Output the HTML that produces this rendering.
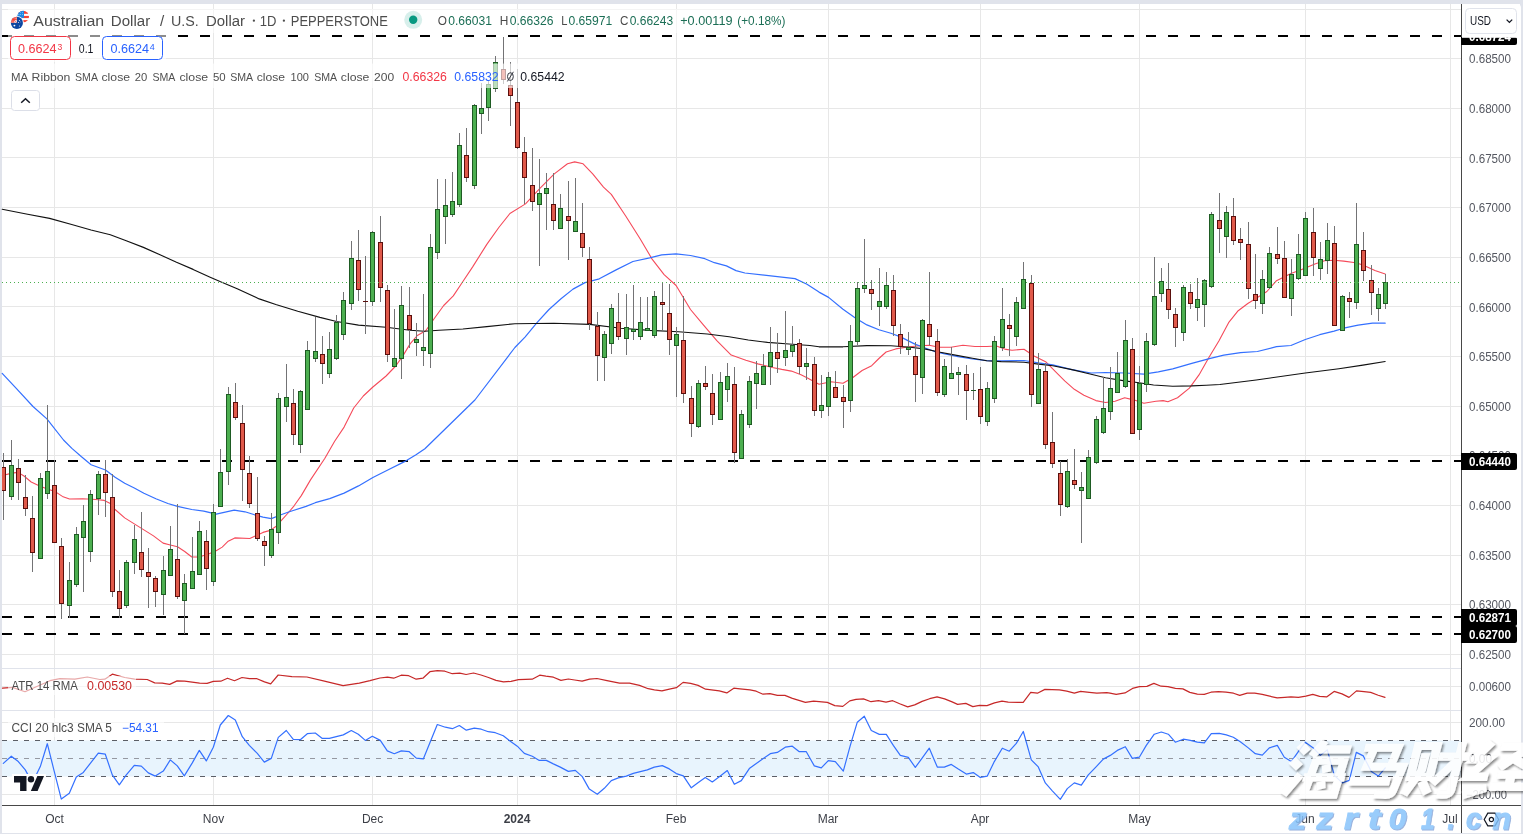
<!DOCTYPE html>
<html><head><meta charset="utf-8"><title>AUDUSD</title>
<style>
html,body{margin:0;padding:0}
body{width:1523px;height:834px;overflow:hidden;background:#e0e3eb;position:relative;font-family:"Liberation Sans",sans-serif}
#panel{position:absolute;left:2px;top:4px;width:1519px;height:829px;background:#fff;border-radius:0 4px 0 0}
svg{position:absolute;left:0;top:0;will-change:transform}
</style></head><body>
<div id="panel"></div>
<svg width="1523" height="834" viewBox="0 0 1523 834">
<g shape-rendering="crispEdges">
<rect x="2" y="9" width="1459" height="1" fill="#e7e7e7"/>
<rect x="2" y="58" width="1459" height="1" fill="#e7e7e7"/>
<rect x="2" y="108" width="1459" height="1" fill="#e7e7e7"/>
<rect x="2" y="157" width="1459" height="1" fill="#e7e7e7"/>
<rect x="2" y="207" width="1459" height="1" fill="#e7e7e7"/>
<rect x="2" y="257" width="1459" height="1" fill="#e7e7e7"/>
<rect x="2" y="306" width="1459" height="1" fill="#e7e7e7"/>
<rect x="2" y="356" width="1459" height="1" fill="#e7e7e7"/>
<rect x="2" y="406" width="1459" height="1" fill="#e7e7e7"/>
<rect x="2" y="455" width="1459" height="1" fill="#e7e7e7"/>
<rect x="2" y="505" width="1459" height="1" fill="#e7e7e7"/>
<rect x="2" y="555" width="1459" height="1" fill="#e7e7e7"/>
<rect x="2" y="604" width="1459" height="1" fill="#e7e7e7"/>
<rect x="2" y="654" width="1459" height="1" fill="#e7e7e7"/>
<rect x="2" y="686" width="1459" height="1" fill="#e7e7e7"/>
<rect x="2" y="722" width="1459" height="1" fill="#e7e7e7"/>
<rect x="2" y="794" width="1459" height="1" fill="#e7e7e7"/>
<rect x="54" y="4" width="1" height="801" fill="#e7e7e7"/>
<rect x="213" y="4" width="1" height="801" fill="#e7e7e7"/>
<rect x="372" y="4" width="1" height="801" fill="#e7e7e7"/>
<rect x="517" y="4" width="1" height="801" fill="#e7e7e7"/>
<rect x="676" y="4" width="1" height="801" fill="#e7e7e7"/>
<rect x="828" y="4" width="1" height="801" fill="#e7e7e7"/>
<rect x="980" y="4" width="1" height="801" fill="#e7e7e7"/>
<rect x="1139" y="4" width="1" height="801" fill="#e7e7e7"/>
<rect x="1305" y="4" width="1" height="801" fill="#e7e7e7"/>
<rect x="1450" y="4" width="1" height="801" fill="#e7e7e7"/>
<rect x="2" y="668" width="1459" height="1" fill="#e0e3eb"/>
<rect x="2" y="710" width="1459" height="1" fill="#e0e3eb"/>
</g>
<rect x="2" y="740.5" width="1459" height="36" fill="#e8f4fd"/>
<line x1="2" y1="740.5" x2="1461" y2="740.5" stroke="#5b5e66" stroke-width="1" stroke-dasharray="5 6" shape-rendering="crispEdges"/>
<line x1="2" y1="758.5" x2="1461" y2="758.5" stroke="#9598a1" stroke-width="1" stroke-dasharray="5 6" shape-rendering="crispEdges"/>
<line x1="2" y1="776.5" x2="1461" y2="776.5" stroke="#5b5e66" stroke-width="1" stroke-dasharray="5 6" shape-rendering="crispEdges"/>
<line x1="2" y1="36" x2="1461" y2="36" stroke="#000" stroke-width="2" stroke-dasharray="10 12" shape-rendering="crispEdges"/>
<line x1="2" y1="461" x2="1461" y2="461" stroke="#000" stroke-width="2" stroke-dasharray="10 12" shape-rendering="crispEdges"/>
<line x1="2" y1="617" x2="1461" y2="617" stroke="#000" stroke-width="2" stroke-dasharray="10 12" shape-rendering="crispEdges"/>
<line x1="2" y1="634" x2="1461" y2="634" stroke="#000" stroke-width="2" stroke-dasharray="10 12" shape-rendering="crispEdges"/>
<polyline points="2.4,475.5 12.0,473.1 18.0,472.4 24.0,476.0 31.2,482.0 39.6,486.0 48.0,489.2 55.2,491.6 62.4,496.4 69.5,499.0 82.7,498.8 95.9,499.5 104.3,500.4 110.3,503.5 115.1,509.5 124.7,517.9 134.3,523.9 143.9,529.9 153.5,535.9 163.1,543.1 170.3,545.0 177.5,546.7 184.7,551.5 191.8,557.0 199.0,557.0 208.6,553.9 216.2,550.7 222.2,547.1 228.2,541.2 234.8,537.9 249.8,538.5 255.8,535.8 263.0,532.4 270.2,530.4 276.2,526.2 282.1,519.6 288.1,513.0 294.1,505.8 301.3,495.6 310.5,479.9 324.9,458.3 334.5,441.5 344.1,427.1 353.7,408.0 363.3,396.0 372.9,387.0 386.1,376.0 395.7,366.0 402.9,355.9 410.1,343.9 417.3,335.5 425.7,330.7 434.1,318.7 443.7,305.5 453.3,295.9 462.9,281.5 472.5,267.1 486.8,244.4 498.8,227.5 509.9,213.5 525.5,203.9 539.9,188.3 554.3,173.9 567.5,163.8 574.7,161.9 583.1,163.8 592.7,173.9 603.5,187.1 611.3,194.4 625.7,216.0 640.1,238.8 652.1,259.1 664.1,274.7 676.1,285.5 690.5,309.5 702.5,323.9 716.8,340.7 731.2,355.1 745.9,360.3 757.9,363.9 772.3,367.5 781.8,369.4 791.4,371.1 801.0,374.7 807.0,377.7 819.0,384.2 831.0,381.8 843.0,383.2 852.6,377.7 862.1,370.5 871.7,365.7 878.9,358.5 886.1,352.0 895.7,348.9 907.7,347.0 919.7,345.8 929.3,345.3 938.9,347.2 950.9,347.2 962.9,345.3 974.9,346.5 986.8,346.5 996.4,346.0 1006.0,349.4 1012.0,350.2 1024.0,349.2 1033.6,355.7 1045.6,361.7 1055.2,371.3 1064.7,380.9 1074.3,389.3 1083.9,395.3 1095.9,400.6 1105.5,402.5 1115.1,401.3 1124.7,397.7 1134.3,400.1 1143.9,403.2 1155.9,401.3 1163.1,400.6 1167.9,401.8 1177.5,397.7 1189.4,388.1 1199.0,374.9 1208.6,358.1 1219.0,340.7 1228.6,322.7 1238.2,310.7 1247.8,303.5 1257.4,297.5 1266.9,291.5 1276.5,280.7 1290.9,273.5 1300.5,269.9 1314.9,263.9 1324.5,260.8 1334.1,260.3 1343.7,261.1 1355.7,262.7 1362.9,265.1 1374.9,270.6 1385.2,274.0" fill="none" stroke="#f54a5a" stroke-width="1.1" stroke-linejoin="round" stroke-linecap="round" />
<polyline points="2.2,373.4 16.5,388.6 33.0,406.5 46.9,418.9 63.5,440.0 71.9,448.4 81.5,456.8 91.1,464.7 105.5,470.0 115.1,477.2 124.7,483.2 134.3,488.0 143.9,493.2 155.9,498.8 167.9,503.5 177.5,506.4 191.8,509.5 203.8,511.2 216.2,514.2 234.2,510.2 245.0,511.8 254.6,514.8 263.0,517.2 271.4,518.6 281.0,514.8 289.3,511.8 306.1,506.4 315.3,502.7 329.7,498.6 344.1,493.1 358.5,485.9 372.9,477.5 387.3,470.3 404.0,461.9 416.0,454.7 424.9,448.7 474.9,400.0 514.9,347.5 525.0,337.1 537.0,322.7 549.0,309.5 561.0,298.7 573.0,289.1 585.0,282.6 599.3,278.8 616.1,269.9 632.9,261.5 649.7,257.9 661.7,254.8 676.1,253.9 690.5,255.5 704.9,258.7 714.4,262.7 726.4,265.9 736.0,270.6 744.9,273.0 795.0,278.6 807.0,284.2 819.0,292.1 828.6,297.4 843.0,309.3 855.0,317.7 866.9,324.9 878.9,329.7 890.9,333.3 900.5,336.9 914.9,344.1 924.5,347.7 934.1,351.3 943.7,353.7 958.1,356.6 972.5,359.0 986.8,360.7 1001.2,360.9 1024.0,360.5 1038.4,362.9 1052.8,364.8 1071.9,369.6 1091.1,373.0 1105.5,372.5 1124.7,373.0 1143.9,374.2 1158.3,371.8 1172.7,368.9 1191.8,363.4 1209.4,358.7 1223.8,355.1 1240.6,352.7 1257.4,351.5 1276.5,346.7 1290.9,345.5 1305.3,339.5 1319.7,334.7 1334.1,331.1 1343.7,328.2 1358.1,325.1 1372.5,323.2 1385.2,323.2" fill="none" stroke="#3470ff" stroke-width="1.2" stroke-linejoin="round" stroke-linecap="round" />
<polyline points="2.2,209.3 27.6,214.3 49.6,218.4 71.7,224.5 91.0,230.0 110.3,234.7 126.9,241.0 143.4,247.4 160.0,254.8 176.5,262.3 193.1,269.4 209.6,276.9 220.6,281.8 237.2,288.7 259.2,298.9 275.8,304.5 297.8,311.3 319.9,317.4 336.5,321.5 358.5,325.1 386.1,327.3 410.1,330.2 424.5,331.2 438.9,330.2 462.9,329.0 486.8,326.6 514.9,323.7 553.8,323.2 589.7,324.4 620.9,328.2 649.7,330.4 678.5,331.8 707.3,334.0 729.1,336.8 748.3,340.0 767.5,342.4 789.0,344.0 809.9,345.5 819.0,346.8 843.0,346.8 866.9,345.6 890.9,345.8 910.1,347.2 924.5,348.9 938.9,352.0 958.1,355.6 972.5,358.3 986.8,360.7 1001.2,361.6 1024.0,362.2 1038.4,364.1 1052.8,365.8 1071.9,369.6 1091.1,374.2 1105.5,377.8 1124.7,380.9 1139.1,382.8 1153.5,385.0 1172.7,386.2 1191.8,385.9 1206.2,385.2 1219.9,384.5 1256.2,380.0 1305.3,373.0 1338.9,368.7 1362.9,365.1 1385.2,361.5" fill="none" stroke="#111" stroke-width="1.15" stroke-linejoin="round" stroke-linecap="round" />
<clipPath id="cc"><rect x="2" y="4" width="1459" height="801"/></clipPath>
<g shape-rendering="crispEdges" clip-path="url(#cc)">
<rect x="3" y="453" width="1" height="67" fill="#737375"/>
<rect x="1" y="467" width="5" height="24" fill="#5a0f0d"/>
<rect x="2" y="468" width="3" height="22" fill="#e0594a"/>
<rect x="11" y="440" width="1" height="60" fill="#737375"/>
<rect x="9" y="465" width="5" height="32" fill="#1e5b23"/>
<rect x="10" y="466" width="3" height="30" fill="#4caf50"/>
<rect x="18" y="459" width="1" height="41" fill="#737375"/>
<rect x="16" y="468" width="5" height="15" fill="#5a0f0d"/>
<rect x="17" y="469" width="3" height="13" fill="#e0594a"/>
<rect x="25" y="475" width="1" height="41" fill="#737375"/>
<rect x="23" y="497" width="5" height="12" fill="#5a0f0d"/>
<rect x="24" y="498" width="3" height="10" fill="#e0594a"/>
<rect x="32" y="496" width="1" height="76" fill="#737375"/>
<rect x="30" y="518" width="5" height="35" fill="#5a0f0d"/>
<rect x="31" y="519" width="3" height="33" fill="#e0594a"/>
<rect x="40" y="473" width="1" height="86" fill="#737375"/>
<rect x="38" y="478" width="5" height="81" fill="#1e5b23"/>
<rect x="39" y="479" width="3" height="79" fill="#4caf50"/>
<rect x="47" y="405" width="1" height="94" fill="#737375"/>
<rect x="45" y="471" width="5" height="23" fill="#1e5b23"/>
<rect x="46" y="472" width="3" height="21" fill="#4caf50"/>
<rect x="54" y="460" width="1" height="82" fill="#737375"/>
<rect x="52" y="485" width="5" height="58" fill="#5a0f0d"/>
<rect x="53" y="486" width="3" height="56" fill="#e0594a"/>
<rect x="61" y="538" width="1" height="81" fill="#737375"/>
<rect x="59" y="546" width="5" height="58" fill="#5a0f0d"/>
<rect x="60" y="547" width="3" height="56" fill="#e0594a"/>
<rect x="69" y="562" width="1" height="56" fill="#737375"/>
<rect x="67" y="580" width="5" height="26" fill="#1e5b23"/>
<rect x="68" y="581" width="3" height="24" fill="#4caf50"/>
<rect x="76" y="527" width="1" height="60" fill="#737375"/>
<rect x="74" y="534" width="5" height="51" fill="#1e5b23"/>
<rect x="75" y="535" width="3" height="49" fill="#4caf50"/>
<rect x="83" y="505" width="1" height="87" fill="#737375"/>
<rect x="81" y="521" width="5" height="17" fill="#1e5b23"/>
<rect x="82" y="522" width="3" height="15" fill="#4caf50"/>
<rect x="90" y="490" width="1" height="72" fill="#737375"/>
<rect x="88" y="494" width="5" height="58" fill="#1e5b23"/>
<rect x="89" y="495" width="3" height="56" fill="#4caf50"/>
<rect x="98" y="471" width="1" height="44" fill="#737375"/>
<rect x="96" y="474" width="5" height="25" fill="#1e5b23"/>
<rect x="97" y="475" width="3" height="23" fill="#4caf50"/>
<rect x="105" y="460" width="1" height="57" fill="#737375"/>
<rect x="103" y="474" width="5" height="19" fill="#5a0f0d"/>
<rect x="104" y="475" width="3" height="17" fill="#e0594a"/>
<rect x="112" y="474" width="1" height="123" fill="#737375"/>
<rect x="110" y="497" width="5" height="95" fill="#5a0f0d"/>
<rect x="111" y="498" width="3" height="93" fill="#e0594a"/>
<rect x="119" y="570" width="1" height="48" fill="#737375"/>
<rect x="117" y="591" width="5" height="18" fill="#5a0f0d"/>
<rect x="118" y="592" width="3" height="16" fill="#e0594a"/>
<rect x="126" y="560" width="1" height="48" fill="#737375"/>
<rect x="124" y="562" width="5" height="44" fill="#1e5b23"/>
<rect x="125" y="563" width="3" height="42" fill="#4caf50"/>
<rect x="134" y="525" width="1" height="49" fill="#737375"/>
<rect x="132" y="539" width="5" height="24" fill="#1e5b23"/>
<rect x="133" y="540" width="3" height="22" fill="#4caf50"/>
<rect x="141" y="512" width="1" height="65" fill="#737375"/>
<rect x="139" y="552" width="5" height="18" fill="#5a0f0d"/>
<rect x="140" y="553" width="3" height="16" fill="#e0594a"/>
<rect x="148" y="548" width="1" height="60" fill="#737375"/>
<rect x="146" y="572" width="5" height="5" fill="#5a0f0d"/>
<rect x="147" y="573" width="3" height="3" fill="#e0594a"/>
<rect x="155" y="576" width="1" height="31" fill="#737375"/>
<rect x="153" y="578" width="5" height="14" fill="#5a0f0d"/>
<rect x="154" y="579" width="3" height="12" fill="#e0594a"/>
<rect x="163" y="556" width="1" height="59" fill="#737375"/>
<rect x="161" y="570" width="5" height="25" fill="#1e5b23"/>
<rect x="162" y="571" width="3" height="23" fill="#4caf50"/>
<rect x="170" y="526" width="1" height="50" fill="#737375"/>
<rect x="168" y="549" width="5" height="27" fill="#1e5b23"/>
<rect x="169" y="550" width="3" height="25" fill="#4caf50"/>
<rect x="177" y="504" width="1" height="95" fill="#737375"/>
<rect x="175" y="559" width="5" height="38" fill="#5a0f0d"/>
<rect x="176" y="560" width="3" height="36" fill="#e0594a"/>
<rect x="184" y="574" width="1" height="60" fill="#737375"/>
<rect x="182" y="583" width="5" height="18" fill="#1e5b23"/>
<rect x="183" y="584" width="3" height="16" fill="#4caf50"/>
<rect x="192" y="537" width="1" height="52" fill="#737375"/>
<rect x="190" y="571" width="5" height="18" fill="#1e5b23"/>
<rect x="191" y="572" width="3" height="16" fill="#4caf50"/>
<rect x="199" y="521" width="1" height="53" fill="#737375"/>
<rect x="197" y="531" width="5" height="44" fill="#1e5b23"/>
<rect x="198" y="532" width="3" height="42" fill="#4caf50"/>
<rect x="206" y="530" width="1" height="60" fill="#737375"/>
<rect x="204" y="541" width="5" height="28" fill="#5a0f0d"/>
<rect x="205" y="542" width="3" height="26" fill="#e0594a"/>
<rect x="213" y="504" width="1" height="82" fill="#737375"/>
<rect x="211" y="512" width="5" height="70" fill="#1e5b23"/>
<rect x="212" y="513" width="3" height="68" fill="#4caf50"/>
<rect x="220" y="449" width="1" height="57" fill="#737375"/>
<rect x="218" y="472" width="5" height="35" fill="#1e5b23"/>
<rect x="219" y="473" width="3" height="33" fill="#4caf50"/>
<rect x="228" y="387" width="1" height="98" fill="#737375"/>
<rect x="226" y="394" width="5" height="78" fill="#1e5b23"/>
<rect x="227" y="395" width="3" height="76" fill="#4caf50"/>
<rect x="235" y="383" width="1" height="37" fill="#737375"/>
<rect x="233" y="402" width="5" height="16" fill="#5a0f0d"/>
<rect x="234" y="403" width="3" height="14" fill="#e0594a"/>
<rect x="242" y="405" width="1" height="96" fill="#737375"/>
<rect x="240" y="423" width="5" height="47" fill="#5a0f0d"/>
<rect x="241" y="424" width="3" height="45" fill="#e0594a"/>
<rect x="249" y="456" width="1" height="52" fill="#737375"/>
<rect x="247" y="473" width="5" height="31" fill="#5a0f0d"/>
<rect x="248" y="474" width="3" height="29" fill="#e0594a"/>
<rect x="257" y="477" width="1" height="64" fill="#737375"/>
<rect x="255" y="513" width="5" height="26" fill="#5a0f0d"/>
<rect x="256" y="514" width="3" height="24" fill="#e0594a"/>
<rect x="264" y="536" width="1" height="30" fill="#737375"/>
<rect x="262" y="541" width="5" height="5" fill="#5a0f0d"/>
<rect x="263" y="542" width="3" height="3" fill="#e0594a"/>
<rect x="271" y="513" width="1" height="45" fill="#737375"/>
<rect x="269" y="529" width="5" height="27" fill="#1e5b23"/>
<rect x="270" y="530" width="3" height="25" fill="#4caf50"/>
<rect x="278" y="393" width="1" height="151" fill="#737375"/>
<rect x="276" y="398" width="5" height="135" fill="#1e5b23"/>
<rect x="277" y="399" width="3" height="133" fill="#4caf50"/>
<rect x="286" y="364" width="1" height="58" fill="#737375"/>
<rect x="284" y="397" width="5" height="10" fill="#1e5b23"/>
<rect x="285" y="398" width="3" height="8" fill="#4caf50"/>
<rect x="293" y="389" width="1" height="56" fill="#737375"/>
<rect x="291" y="403" width="5" height="32" fill="#5a0f0d"/>
<rect x="292" y="404" width="3" height="30" fill="#e0594a"/>
<rect x="300" y="390" width="1" height="63" fill="#737375"/>
<rect x="298" y="391" width="5" height="54" fill="#1e5b23"/>
<rect x="299" y="392" width="3" height="52" fill="#4caf50"/>
<rect x="307" y="341" width="1" height="68" fill="#737375"/>
<rect x="305" y="350" width="5" height="60" fill="#1e5b23"/>
<rect x="306" y="351" width="3" height="58" fill="#4caf50"/>
<rect x="315" y="317" width="1" height="45" fill="#737375"/>
<rect x="313" y="351" width="5" height="8" fill="#1e5b23"/>
<rect x="314" y="352" width="3" height="6" fill="#4caf50"/>
<rect x="322" y="336" width="1" height="48" fill="#737375"/>
<rect x="320" y="354" width="5" height="10" fill="#5a0f0d"/>
<rect x="321" y="355" width="3" height="8" fill="#e0594a"/>
<rect x="329" y="332" width="1" height="46" fill="#737375"/>
<rect x="327" y="349" width="5" height="25" fill="#1e5b23"/>
<rect x="328" y="350" width="3" height="23" fill="#4caf50"/>
<rect x="336" y="315" width="1" height="45" fill="#737375"/>
<rect x="334" y="322" width="5" height="37" fill="#1e5b23"/>
<rect x="335" y="323" width="3" height="35" fill="#4caf50"/>
<rect x="343" y="292" width="1" height="48" fill="#737375"/>
<rect x="341" y="300" width="5" height="35" fill="#1e5b23"/>
<rect x="342" y="301" width="3" height="33" fill="#4caf50"/>
<rect x="351" y="241" width="1" height="69" fill="#737375"/>
<rect x="349" y="258" width="5" height="46" fill="#1e5b23"/>
<rect x="350" y="259" width="3" height="44" fill="#4caf50"/>
<rect x="358" y="230" width="1" height="71" fill="#737375"/>
<rect x="356" y="260" width="5" height="30" fill="#5a0f0d"/>
<rect x="357" y="261" width="3" height="28" fill="#e0594a"/>
<rect x="365" y="256" width="1" height="78" fill="#737375"/>
<rect x="363" y="301" width="5" height="1" fill="#5a0f0d"/>
<rect x="372" y="231" width="1" height="75" fill="#737375"/>
<rect x="370" y="232" width="5" height="70" fill="#1e5b23"/>
<rect x="371" y="233" width="3" height="68" fill="#4caf50"/>
<rect x="380" y="216" width="1" height="86" fill="#737375"/>
<rect x="378" y="242" width="5" height="46" fill="#5a0f0d"/>
<rect x="379" y="243" width="3" height="44" fill="#e0594a"/>
<rect x="387" y="285" width="1" height="77" fill="#737375"/>
<rect x="385" y="290" width="5" height="65" fill="#5a0f0d"/>
<rect x="386" y="291" width="3" height="63" fill="#e0594a"/>
<rect x="394" y="309" width="1" height="58" fill="#737375"/>
<rect x="392" y="358" width="5" height="9" fill="#1e5b23"/>
<rect x="393" y="359" width="3" height="7" fill="#4caf50"/>
<rect x="401" y="286" width="1" height="93" fill="#737375"/>
<rect x="399" y="305" width="5" height="54" fill="#1e5b23"/>
<rect x="400" y="306" width="3" height="52" fill="#4caf50"/>
<rect x="409" y="287" width="1" height="61" fill="#737375"/>
<rect x="407" y="315" width="5" height="15" fill="#5a0f0d"/>
<rect x="408" y="316" width="3" height="13" fill="#e0594a"/>
<rect x="416" y="323" width="1" height="33" fill="#737375"/>
<rect x="414" y="339" width="5" height="4" fill="#1e5b23"/>
<rect x="415" y="340" width="3" height="2" fill="#4caf50"/>
<rect x="423" y="294" width="1" height="72" fill="#737375"/>
<rect x="421" y="347" width="5" height="4" fill="#1e5b23"/>
<rect x="422" y="348" width="3" height="2" fill="#4caf50"/>
<rect x="430" y="234" width="1" height="134" fill="#737375"/>
<rect x="428" y="247" width="5" height="107" fill="#1e5b23"/>
<rect x="429" y="248" width="3" height="105" fill="#4caf50"/>
<rect x="437" y="179" width="1" height="80" fill="#737375"/>
<rect x="435" y="209" width="5" height="44" fill="#1e5b23"/>
<rect x="436" y="210" width="3" height="42" fill="#4caf50"/>
<rect x="445" y="179" width="1" height="65" fill="#737375"/>
<rect x="443" y="205" width="5" height="12" fill="#1e5b23"/>
<rect x="444" y="206" width="3" height="10" fill="#4caf50"/>
<rect x="452" y="172" width="1" height="45" fill="#737375"/>
<rect x="450" y="201" width="5" height="14" fill="#1e5b23"/>
<rect x="451" y="202" width="3" height="12" fill="#4caf50"/>
<rect x="459" y="133" width="1" height="74" fill="#737375"/>
<rect x="457" y="145" width="5" height="60" fill="#1e5b23"/>
<rect x="458" y="146" width="3" height="58" fill="#4caf50"/>
<rect x="466" y="128" width="1" height="54" fill="#737375"/>
<rect x="464" y="155" width="5" height="23" fill="#5a0f0d"/>
<rect x="465" y="156" width="3" height="21" fill="#e0594a"/>
<rect x="474" y="104" width="1" height="85" fill="#737375"/>
<rect x="472" y="105" width="5" height="81" fill="#1e5b23"/>
<rect x="473" y="106" width="3" height="79" fill="#4caf50"/>
<rect x="481" y="83" width="1" height="51" fill="#737375"/>
<rect x="479" y="108" width="5" height="6" fill="#1e5b23"/>
<rect x="480" y="109" width="3" height="4" fill="#4caf50"/>
<rect x="488" y="81" width="1" height="40" fill="#737375"/>
<rect x="486" y="84" width="5" height="24" fill="#1e5b23"/>
<rect x="487" y="85" width="3" height="22" fill="#4caf50"/>
<rect x="495" y="56" width="1" height="36" fill="#737375"/>
<rect x="493" y="62" width="5" height="27" fill="#1e5b23"/>
<rect x="494" y="63" width="3" height="25" fill="#4caf50"/>
<rect x="503" y="37" width="1" height="47" fill="#737375"/>
<rect x="501" y="69" width="5" height="11" fill="#5a0f0d"/>
<rect x="502" y="70" width="3" height="9" fill="#e0594a"/>
<rect x="510" y="62" width="1" height="64" fill="#737375"/>
<rect x="508" y="85" width="5" height="11" fill="#5a0f0d"/>
<rect x="509" y="86" width="3" height="9" fill="#e0594a"/>
<rect x="517" y="69" width="1" height="80" fill="#737375"/>
<rect x="515" y="102" width="5" height="46" fill="#5a0f0d"/>
<rect x="516" y="103" width="3" height="44" fill="#e0594a"/>
<rect x="524" y="137" width="1" height="67" fill="#737375"/>
<rect x="522" y="152" width="5" height="26" fill="#5a0f0d"/>
<rect x="523" y="153" width="3" height="24" fill="#e0594a"/>
<rect x="532" y="148" width="1" height="63" fill="#737375"/>
<rect x="530" y="185" width="5" height="17" fill="#5a0f0d"/>
<rect x="531" y="186" width="3" height="15" fill="#e0594a"/>
<rect x="539" y="159" width="1" height="107" fill="#737375"/>
<rect x="537" y="193" width="5" height="12" fill="#1e5b23"/>
<rect x="538" y="194" width="3" height="10" fill="#4caf50"/>
<rect x="546" y="173" width="1" height="57" fill="#737375"/>
<rect x="544" y="188" width="5" height="6" fill="#1e5b23"/>
<rect x="545" y="189" width="3" height="4" fill="#4caf50"/>
<rect x="553" y="173" width="1" height="57" fill="#737375"/>
<rect x="551" y="204" width="5" height="17" fill="#5a0f0d"/>
<rect x="552" y="205" width="3" height="15" fill="#e0594a"/>
<rect x="560" y="194" width="1" height="35" fill="#737375"/>
<rect x="558" y="208" width="5" height="21" fill="#1e5b23"/>
<rect x="559" y="209" width="3" height="19" fill="#4caf50"/>
<rect x="568" y="181" width="1" height="79" fill="#737375"/>
<rect x="566" y="216" width="5" height="5" fill="#5a0f0d"/>
<rect x="567" y="217" width="3" height="3" fill="#e0594a"/>
<rect x="575" y="178" width="1" height="54" fill="#737375"/>
<rect x="573" y="221" width="5" height="11" fill="#1e5b23"/>
<rect x="574" y="222" width="3" height="9" fill="#4caf50"/>
<rect x="582" y="203" width="1" height="54" fill="#737375"/>
<rect x="580" y="233" width="5" height="15" fill="#5a0f0d"/>
<rect x="581" y="234" width="3" height="13" fill="#e0594a"/>
<rect x="589" y="247" width="1" height="83" fill="#737375"/>
<rect x="587" y="259" width="5" height="65" fill="#5a0f0d"/>
<rect x="588" y="260" width="3" height="63" fill="#e0594a"/>
<rect x="597" y="312" width="1" height="69" fill="#737375"/>
<rect x="595" y="326" width="5" height="30" fill="#5a0f0d"/>
<rect x="596" y="327" width="3" height="28" fill="#e0594a"/>
<rect x="604" y="331" width="1" height="50" fill="#737375"/>
<rect x="602" y="334" width="5" height="24" fill="#1e5b23"/>
<rect x="603" y="335" width="3" height="22" fill="#4caf50"/>
<rect x="611" y="304" width="1" height="50" fill="#737375"/>
<rect x="609" y="308" width="5" height="36" fill="#1e5b23"/>
<rect x="610" y="309" width="3" height="34" fill="#4caf50"/>
<rect x="618" y="293" width="1" height="47" fill="#737375"/>
<rect x="616" y="322" width="5" height="15" fill="#5a0f0d"/>
<rect x="617" y="323" width="3" height="13" fill="#e0594a"/>
<rect x="626" y="294" width="1" height="61" fill="#737375"/>
<rect x="624" y="327" width="5" height="12" fill="#1e5b23"/>
<rect x="625" y="328" width="3" height="10" fill="#4caf50"/>
<rect x="633" y="285" width="1" height="55" fill="#737375"/>
<rect x="631" y="329" width="5" height="3" fill="#1e5b23"/>
<rect x="632" y="330" width="3" height="1" fill="#4caf50"/>
<rect x="640" y="297" width="1" height="43" fill="#737375"/>
<rect x="638" y="322" width="5" height="15" fill="#1e5b23"/>
<rect x="639" y="323" width="3" height="13" fill="#4caf50"/>
<rect x="647" y="297" width="1" height="33" fill="#737375"/>
<rect x="645" y="328" width="5" height="3" fill="#1e5b23"/>
<rect x="646" y="329" width="3" height="1" fill="#4caf50"/>
<rect x="654" y="291" width="1" height="47" fill="#737375"/>
<rect x="652" y="296" width="5" height="40" fill="#1e5b23"/>
<rect x="653" y="297" width="3" height="38" fill="#4caf50"/>
<rect x="662" y="282" width="1" height="48" fill="#737375"/>
<rect x="660" y="302" width="5" height="3" fill="#5a0f0d"/>
<rect x="661" y="303" width="3" height="1" fill="#e0594a"/>
<rect x="669" y="284" width="1" height="71" fill="#737375"/>
<rect x="667" y="313" width="5" height="27" fill="#5a0f0d"/>
<rect x="668" y="314" width="3" height="25" fill="#e0594a"/>
<rect x="676" y="327" width="1" height="70" fill="#737375"/>
<rect x="674" y="334" width="5" height="12" fill="#1e5b23"/>
<rect x="675" y="335" width="3" height="10" fill="#4caf50"/>
<rect x="683" y="296" width="1" height="107" fill="#737375"/>
<rect x="681" y="340" width="5" height="54" fill="#5a0f0d"/>
<rect x="682" y="341" width="3" height="52" fill="#e0594a"/>
<rect x="691" y="386" width="1" height="51" fill="#737375"/>
<rect x="689" y="398" width="5" height="26" fill="#5a0f0d"/>
<rect x="690" y="399" width="3" height="24" fill="#e0594a"/>
<rect x="698" y="380" width="1" height="48" fill="#737375"/>
<rect x="696" y="383" width="5" height="44" fill="#1e5b23"/>
<rect x="697" y="384" width="3" height="42" fill="#4caf50"/>
<rect x="705" y="366" width="1" height="24" fill="#737375"/>
<rect x="703" y="383" width="5" height="4" fill="#5a0f0d"/>
<rect x="704" y="384" width="3" height="2" fill="#e0594a"/>
<rect x="712" y="374" width="1" height="51" fill="#737375"/>
<rect x="710" y="393" width="5" height="22" fill="#5a0f0d"/>
<rect x="711" y="394" width="3" height="20" fill="#e0594a"/>
<rect x="720" y="372" width="1" height="48" fill="#737375"/>
<rect x="718" y="382" width="5" height="38" fill="#1e5b23"/>
<rect x="719" y="383" width="3" height="36" fill="#4caf50"/>
<rect x="727" y="363" width="1" height="39" fill="#737375"/>
<rect x="725" y="376" width="5" height="14" fill="#1e5b23"/>
<rect x="726" y="377" width="3" height="12" fill="#4caf50"/>
<rect x="734" y="367" width="1" height="96" fill="#737375"/>
<rect x="732" y="384" width="5" height="69" fill="#5a0f0d"/>
<rect x="733" y="385" width="3" height="67" fill="#e0594a"/>
<rect x="741" y="410" width="1" height="49" fill="#737375"/>
<rect x="739" y="414" width="5" height="45" fill="#1e5b23"/>
<rect x="740" y="415" width="3" height="43" fill="#4caf50"/>
<rect x="749" y="376" width="1" height="52" fill="#737375"/>
<rect x="747" y="381" width="5" height="44" fill="#1e5b23"/>
<rect x="748" y="382" width="3" height="42" fill="#4caf50"/>
<rect x="756" y="361" width="1" height="48" fill="#737375"/>
<rect x="754" y="373" width="5" height="11" fill="#1e5b23"/>
<rect x="755" y="374" width="3" height="9" fill="#4caf50"/>
<rect x="763" y="354" width="1" height="31" fill="#737375"/>
<rect x="761" y="366" width="5" height="19" fill="#1e5b23"/>
<rect x="762" y="367" width="3" height="17" fill="#4caf50"/>
<rect x="770" y="327" width="1" height="58" fill="#737375"/>
<rect x="768" y="352" width="5" height="15" fill="#1e5b23"/>
<rect x="769" y="353" width="3" height="13" fill="#4caf50"/>
<rect x="777" y="333" width="1" height="40" fill="#737375"/>
<rect x="775" y="352" width="5" height="7" fill="#5a0f0d"/>
<rect x="776" y="353" width="3" height="5" fill="#e0594a"/>
<rect x="785" y="311" width="1" height="55" fill="#737375"/>
<rect x="783" y="350" width="5" height="8" fill="#1e5b23"/>
<rect x="784" y="351" width="3" height="6" fill="#4caf50"/>
<rect x="792" y="326" width="1" height="31" fill="#737375"/>
<rect x="790" y="345" width="5" height="7" fill="#1e5b23"/>
<rect x="791" y="346" width="3" height="5" fill="#4caf50"/>
<rect x="799" y="339" width="1" height="35" fill="#737375"/>
<rect x="797" y="343" width="5" height="24" fill="#5a0f0d"/>
<rect x="798" y="344" width="3" height="22" fill="#e0594a"/>
<rect x="806" y="348" width="1" height="32" fill="#737375"/>
<rect x="804" y="363" width="5" height="4" fill="#1e5b23"/>
<rect x="805" y="364" width="3" height="2" fill="#4caf50"/>
<rect x="814" y="357" width="1" height="59" fill="#737375"/>
<rect x="812" y="364" width="5" height="47" fill="#5a0f0d"/>
<rect x="813" y="365" width="3" height="45" fill="#e0594a"/>
<rect x="821" y="375" width="1" height="43" fill="#737375"/>
<rect x="819" y="405" width="5" height="6" fill="#1e5b23"/>
<rect x="820" y="406" width="3" height="4" fill="#4caf50"/>
<rect x="828" y="372" width="1" height="44" fill="#737375"/>
<rect x="826" y="377" width="5" height="30" fill="#1e5b23"/>
<rect x="827" y="378" width="3" height="28" fill="#4caf50"/>
<rect x="835" y="371" width="1" height="27" fill="#737375"/>
<rect x="833" y="387" width="5" height="11" fill="#5a0f0d"/>
<rect x="834" y="388" width="3" height="9" fill="#e0594a"/>
<rect x="843" y="385" width="1" height="43" fill="#737375"/>
<rect x="841" y="397" width="5" height="5" fill="#5a0f0d"/>
<rect x="842" y="398" width="3" height="3" fill="#e0594a"/>
<rect x="850" y="325" width="1" height="87" fill="#737375"/>
<rect x="848" y="341" width="5" height="60" fill="#1e5b23"/>
<rect x="849" y="342" width="3" height="58" fill="#4caf50"/>
<rect x="857" y="282" width="1" height="63" fill="#737375"/>
<rect x="855" y="288" width="5" height="54" fill="#1e5b23"/>
<rect x="856" y="289" width="3" height="52" fill="#4caf50"/>
<rect x="864" y="239" width="1" height="54" fill="#737375"/>
<rect x="862" y="285" width="5" height="4" fill="#1e5b23"/>
<rect x="863" y="286" width="3" height="2" fill="#4caf50"/>
<rect x="871" y="280" width="1" height="30" fill="#737375"/>
<rect x="869" y="289" width="5" height="5" fill="#5a0f0d"/>
<rect x="870" y="290" width="3" height="3" fill="#e0594a"/>
<rect x="879" y="268" width="1" height="58" fill="#737375"/>
<rect x="877" y="301" width="5" height="6" fill="#1e5b23"/>
<rect x="878" y="302" width="3" height="4" fill="#4caf50"/>
<rect x="886" y="272" width="1" height="37" fill="#737375"/>
<rect x="884" y="285" width="5" height="22" fill="#1e5b23"/>
<rect x="885" y="286" width="3" height="20" fill="#4caf50"/>
<rect x="893" y="275" width="1" height="61" fill="#737375"/>
<rect x="891" y="290" width="5" height="36" fill="#5a0f0d"/>
<rect x="892" y="291" width="3" height="34" fill="#e0594a"/>
<rect x="900" y="324" width="1" height="30" fill="#737375"/>
<rect x="898" y="334" width="5" height="13" fill="#5a0f0d"/>
<rect x="899" y="335" width="3" height="11" fill="#e0594a"/>
<rect x="908" y="332" width="1" height="23" fill="#737375"/>
<rect x="906" y="347" width="5" height="3" fill="#1e5b23"/>
<rect x="907" y="348" width="3" height="1" fill="#4caf50"/>
<rect x="915" y="342" width="1" height="60" fill="#737375"/>
<rect x="913" y="356" width="5" height="19" fill="#5a0f0d"/>
<rect x="914" y="357" width="3" height="17" fill="#e0594a"/>
<rect x="922" y="319" width="1" height="75" fill="#737375"/>
<rect x="920" y="320" width="5" height="58" fill="#1e5b23"/>
<rect x="921" y="321" width="3" height="56" fill="#4caf50"/>
<rect x="929" y="272" width="1" height="73" fill="#737375"/>
<rect x="927" y="324" width="5" height="13" fill="#5a0f0d"/>
<rect x="928" y="325" width="3" height="11" fill="#e0594a"/>
<rect x="937" y="329" width="1" height="67" fill="#737375"/>
<rect x="935" y="341" width="5" height="52" fill="#5a0f0d"/>
<rect x="936" y="342" width="3" height="50" fill="#e0594a"/>
<rect x="944" y="359" width="1" height="38" fill="#737375"/>
<rect x="942" y="366" width="5" height="29" fill="#1e5b23"/>
<rect x="943" y="367" width="3" height="27" fill="#4caf50"/>
<rect x="951" y="347" width="1" height="32" fill="#737375"/>
<rect x="949" y="373" width="5" height="6" fill="#1e5b23"/>
<rect x="950" y="374" width="3" height="4" fill="#4caf50"/>
<rect x="958" y="367" width="1" height="28" fill="#737375"/>
<rect x="956" y="372" width="5" height="3" fill="#1e5b23"/>
<rect x="957" y="373" width="3" height="1" fill="#4caf50"/>
<rect x="966" y="365" width="1" height="55" fill="#737375"/>
<rect x="964" y="374" width="5" height="17" fill="#5a0f0d"/>
<rect x="965" y="375" width="3" height="15" fill="#e0594a"/>
<rect x="973" y="373" width="1" height="27" fill="#737375"/>
<rect x="971" y="390" width="5" height="1" fill="#1e5b23"/>
<rect x="980" y="367" width="1" height="57" fill="#737375"/>
<rect x="978" y="389" width="5" height="28" fill="#5a0f0d"/>
<rect x="979" y="390" width="3" height="26" fill="#e0594a"/>
<rect x="987" y="382" width="1" height="44" fill="#737375"/>
<rect x="985" y="388" width="5" height="34" fill="#1e5b23"/>
<rect x="986" y="389" width="3" height="32" fill="#4caf50"/>
<rect x="994" y="336" width="1" height="67" fill="#737375"/>
<rect x="992" y="341" width="5" height="58" fill="#1e5b23"/>
<rect x="993" y="342" width="3" height="56" fill="#4caf50"/>
<rect x="1002" y="288" width="1" height="63" fill="#737375"/>
<rect x="1000" y="319" width="5" height="29" fill="#1e5b23"/>
<rect x="1001" y="320" width="3" height="27" fill="#4caf50"/>
<rect x="1009" y="314" width="1" height="42" fill="#737375"/>
<rect x="1007" y="325" width="5" height="4" fill="#5a0f0d"/>
<rect x="1008" y="326" width="3" height="2" fill="#e0594a"/>
<rect x="1016" y="297" width="1" height="49" fill="#737375"/>
<rect x="1014" y="302" width="5" height="35" fill="#1e5b23"/>
<rect x="1015" y="303" width="3" height="33" fill="#4caf50"/>
<rect x="1023" y="262" width="1" height="47" fill="#737375"/>
<rect x="1021" y="279" width="5" height="30" fill="#1e5b23"/>
<rect x="1022" y="280" width="3" height="28" fill="#4caf50"/>
<rect x="1031" y="275" width="1" height="132" fill="#737375"/>
<rect x="1029" y="283" width="5" height="112" fill="#5a0f0d"/>
<rect x="1030" y="284" width="3" height="110" fill="#e0594a"/>
<rect x="1038" y="353" width="1" height="51" fill="#737375"/>
<rect x="1036" y="369" width="5" height="35" fill="#1e5b23"/>
<rect x="1037" y="370" width="3" height="33" fill="#4caf50"/>
<rect x="1045" y="363" width="1" height="86" fill="#737375"/>
<rect x="1043" y="371" width="5" height="74" fill="#5a0f0d"/>
<rect x="1044" y="372" width="3" height="72" fill="#e0594a"/>
<rect x="1052" y="412" width="1" height="56" fill="#737375"/>
<rect x="1050" y="442" width="5" height="22" fill="#5a0f0d"/>
<rect x="1051" y="443" width="3" height="20" fill="#e0594a"/>
<rect x="1060" y="461" width="1" height="55" fill="#737375"/>
<rect x="1058" y="473" width="5" height="32" fill="#5a0f0d"/>
<rect x="1059" y="474" width="3" height="30" fill="#e0594a"/>
<rect x="1067" y="459" width="1" height="49" fill="#737375"/>
<rect x="1065" y="471" width="5" height="36" fill="#1e5b23"/>
<rect x="1066" y="472" width="3" height="34" fill="#4caf50"/>
<rect x="1074" y="449" width="1" height="40" fill="#737375"/>
<rect x="1072" y="480" width="5" height="5" fill="#5a0f0d"/>
<rect x="1073" y="481" width="3" height="3" fill="#e0594a"/>
<rect x="1081" y="472" width="1" height="71" fill="#737375"/>
<rect x="1079" y="487" width="5" height="4" fill="#1e5b23"/>
<rect x="1080" y="488" width="3" height="2" fill="#4caf50"/>
<rect x="1088" y="450" width="1" height="49" fill="#737375"/>
<rect x="1086" y="457" width="5" height="42" fill="#1e5b23"/>
<rect x="1087" y="458" width="3" height="40" fill="#4caf50"/>
<rect x="1096" y="416" width="1" height="48" fill="#737375"/>
<rect x="1094" y="419" width="5" height="44" fill="#1e5b23"/>
<rect x="1095" y="420" width="3" height="42" fill="#4caf50"/>
<rect x="1103" y="377" width="1" height="57" fill="#737375"/>
<rect x="1101" y="408" width="5" height="25" fill="#1e5b23"/>
<rect x="1102" y="409" width="3" height="23" fill="#4caf50"/>
<rect x="1110" y="367" width="1" height="53" fill="#737375"/>
<rect x="1108" y="388" width="5" height="24" fill="#1e5b23"/>
<rect x="1109" y="389" width="3" height="22" fill="#4caf50"/>
<rect x="1117" y="352" width="1" height="41" fill="#737375"/>
<rect x="1115" y="373" width="5" height="20" fill="#1e5b23"/>
<rect x="1116" y="374" width="3" height="18" fill="#4caf50"/>
<rect x="1125" y="320" width="1" height="68" fill="#737375"/>
<rect x="1123" y="340" width="5" height="47" fill="#1e5b23"/>
<rect x="1124" y="341" width="3" height="45" fill="#4caf50"/>
<rect x="1132" y="338" width="1" height="96" fill="#737375"/>
<rect x="1130" y="349" width="5" height="85" fill="#5a0f0d"/>
<rect x="1131" y="350" width="3" height="83" fill="#e0594a"/>
<rect x="1139" y="366" width="1" height="74" fill="#737375"/>
<rect x="1137" y="383" width="5" height="47" fill="#1e5b23"/>
<rect x="1138" y="384" width="3" height="45" fill="#4caf50"/>
<rect x="1146" y="333" width="1" height="59" fill="#737375"/>
<rect x="1144" y="341" width="5" height="44" fill="#1e5b23"/>
<rect x="1145" y="342" width="3" height="42" fill="#4caf50"/>
<rect x="1154" y="257" width="1" height="89" fill="#737375"/>
<rect x="1152" y="296" width="5" height="49" fill="#1e5b23"/>
<rect x="1153" y="297" width="3" height="47" fill="#4caf50"/>
<rect x="1161" y="268" width="1" height="34" fill="#737375"/>
<rect x="1159" y="281" width="5" height="13" fill="#1e5b23"/>
<rect x="1160" y="282" width="3" height="11" fill="#4caf50"/>
<rect x="1168" y="263" width="1" height="56" fill="#737375"/>
<rect x="1166" y="289" width="5" height="21" fill="#5a0f0d"/>
<rect x="1167" y="290" width="3" height="19" fill="#e0594a"/>
<rect x="1175" y="308" width="1" height="39" fill="#737375"/>
<rect x="1173" y="314" width="5" height="14" fill="#5a0f0d"/>
<rect x="1174" y="315" width="3" height="12" fill="#e0594a"/>
<rect x="1183" y="285" width="1" height="56" fill="#737375"/>
<rect x="1181" y="287" width="5" height="46" fill="#1e5b23"/>
<rect x="1182" y="288" width="3" height="44" fill="#4caf50"/>
<rect x="1190" y="284" width="1" height="25" fill="#737375"/>
<rect x="1188" y="292" width="5" height="12" fill="#5a0f0d"/>
<rect x="1189" y="293" width="3" height="10" fill="#e0594a"/>
<rect x="1197" y="278" width="1" height="43" fill="#737375"/>
<rect x="1195" y="299" width="5" height="9" fill="#1e5b23"/>
<rect x="1196" y="300" width="3" height="7" fill="#4caf50"/>
<rect x="1204" y="279" width="1" height="48" fill="#737375"/>
<rect x="1202" y="280" width="5" height="25" fill="#1e5b23"/>
<rect x="1203" y="281" width="3" height="23" fill="#4caf50"/>
<rect x="1211" y="212" width="1" height="76" fill="#737375"/>
<rect x="1209" y="214" width="5" height="73" fill="#1e5b23"/>
<rect x="1210" y="215" width="3" height="71" fill="#4caf50"/>
<rect x="1219" y="193" width="1" height="60" fill="#737375"/>
<rect x="1217" y="220" width="5" height="9" fill="#5a0f0d"/>
<rect x="1218" y="221" width="3" height="7" fill="#e0594a"/>
<rect x="1226" y="206" width="1" height="52" fill="#737375"/>
<rect x="1224" y="212" width="5" height="25" fill="#1e5b23"/>
<rect x="1225" y="213" width="3" height="23" fill="#4caf50"/>
<rect x="1233" y="198" width="1" height="47" fill="#737375"/>
<rect x="1231" y="216" width="5" height="25" fill="#5a0f0d"/>
<rect x="1232" y="217" width="3" height="23" fill="#e0594a"/>
<rect x="1240" y="228" width="1" height="32" fill="#737375"/>
<rect x="1238" y="239" width="5" height="4" fill="#5a0f0d"/>
<rect x="1239" y="240" width="3" height="2" fill="#e0594a"/>
<rect x="1248" y="222" width="1" height="77" fill="#737375"/>
<rect x="1246" y="244" width="5" height="45" fill="#5a0f0d"/>
<rect x="1247" y="245" width="3" height="43" fill="#e0594a"/>
<rect x="1255" y="254" width="1" height="55" fill="#737375"/>
<rect x="1253" y="294" width="5" height="7" fill="#5a0f0d"/>
<rect x="1254" y="295" width="3" height="5" fill="#e0594a"/>
<rect x="1262" y="270" width="1" height="44" fill="#737375"/>
<rect x="1260" y="279" width="5" height="25" fill="#1e5b23"/>
<rect x="1261" y="280" width="3" height="23" fill="#4caf50"/>
<rect x="1269" y="247" width="1" height="42" fill="#737375"/>
<rect x="1267" y="253" width="5" height="35" fill="#1e5b23"/>
<rect x="1268" y="254" width="3" height="33" fill="#4caf50"/>
<rect x="1277" y="227" width="1" height="37" fill="#737375"/>
<rect x="1275" y="254" width="5" height="5" fill="#5a0f0d"/>
<rect x="1276" y="255" width="3" height="3" fill="#e0594a"/>
<rect x="1284" y="241" width="1" height="57" fill="#737375"/>
<rect x="1282" y="258" width="5" height="40" fill="#5a0f0d"/>
<rect x="1283" y="259" width="3" height="38" fill="#e0594a"/>
<rect x="1291" y="259" width="1" height="57" fill="#737375"/>
<rect x="1289" y="274" width="5" height="25" fill="#1e5b23"/>
<rect x="1290" y="275" width="3" height="23" fill="#4caf50"/>
<rect x="1298" y="234" width="1" height="46" fill="#737375"/>
<rect x="1296" y="254" width="5" height="25" fill="#1e5b23"/>
<rect x="1297" y="255" width="3" height="23" fill="#4caf50"/>
<rect x="1305" y="212" width="1" height="64" fill="#737375"/>
<rect x="1303" y="218" width="5" height="58" fill="#1e5b23"/>
<rect x="1304" y="219" width="3" height="56" fill="#4caf50"/>
<rect x="1313" y="208" width="1" height="68" fill="#737375"/>
<rect x="1311" y="232" width="5" height="26" fill="#5a0f0d"/>
<rect x="1312" y="233" width="3" height="24" fill="#e0594a"/>
<rect x="1320" y="242" width="1" height="38" fill="#737375"/>
<rect x="1318" y="259" width="5" height="10" fill="#1e5b23"/>
<rect x="1319" y="260" width="3" height="8" fill="#4caf50"/>
<rect x="1327" y="223" width="1" height="51" fill="#737375"/>
<rect x="1325" y="240" width="5" height="21" fill="#1e5b23"/>
<rect x="1326" y="241" width="3" height="19" fill="#4caf50"/>
<rect x="1334" y="226" width="1" height="100" fill="#737375"/>
<rect x="1332" y="243" width="5" height="83" fill="#5a0f0d"/>
<rect x="1333" y="244" width="3" height="81" fill="#e0594a"/>
<rect x="1342" y="295" width="1" height="36" fill="#737375"/>
<rect x="1340" y="296" width="5" height="35" fill="#1e5b23"/>
<rect x="1341" y="297" width="3" height="33" fill="#4caf50"/>
<rect x="1349" y="292" width="1" height="26" fill="#737375"/>
<rect x="1347" y="298" width="5" height="4" fill="#5a0f0d"/>
<rect x="1348" y="299" width="3" height="2" fill="#e0594a"/>
<rect x="1356" y="203" width="1" height="106" fill="#737375"/>
<rect x="1354" y="244" width="5" height="59" fill="#1e5b23"/>
<rect x="1355" y="245" width="3" height="57" fill="#4caf50"/>
<rect x="1363" y="232" width="1" height="49" fill="#737375"/>
<rect x="1361" y="250" width="5" height="21" fill="#5a0f0d"/>
<rect x="1362" y="251" width="3" height="19" fill="#e0594a"/>
<rect x="1371" y="265" width="1" height="50" fill="#737375"/>
<rect x="1369" y="280" width="5" height="13" fill="#5a0f0d"/>
<rect x="1370" y="281" width="3" height="11" fill="#e0594a"/>
<rect x="1378" y="288" width="1" height="33" fill="#737375"/>
<rect x="1376" y="294" width="5" height="15" fill="#1e5b23"/>
<rect x="1377" y="295" width="3" height="13" fill="#4caf50"/>
<rect x="1385" y="274" width="1" height="35" fill="#737375"/>
<rect x="1383" y="282" width="5" height="22" fill="#1e5b23"/>
<rect x="1384" y="283" width="3" height="20" fill="#4caf50"/>
</g>
<line x1="2" y1="282.5" x2="1461" y2="282.5" stroke="#4caf50" stroke-width="1" stroke-dasharray="1.3 2.7" shape-rendering="crispEdges"/>
<polyline points="2.5,688.2 12.5,687.4 25.0,691.7 37.4,686.2 49.9,680.7 59.9,678.7 74.9,679.2 87.3,677.0 99.8,679.5 104.8,679.2 112.3,674.2 124.8,677.5 134.7,679.2 147.2,679.5 154.7,682.9 162.2,683.2 169.7,684.4 177.1,680.9 184.6,681.2 199.6,683.2 207.1,683.4 213.3,681.4 220.8,681.2 227.5,678.2 234.5,680.7 242.0,677.5 249.5,678.7 257.0,678.7 264.5,681.9 270.7,683.9 278.2,675.0 291.9,676.7 306.9,677.0 324.4,681.2 343.1,685.7 359.3,683.2 370.0,680.7 380.0,678.0 387.5,677.2 393.7,678.2 401.2,675.2 408.7,675.7 416.2,679.2 422.9,678.2 429.9,671.7 437.4,670.7 444.9,671.2 452.3,673.7 459.8,673.2 466.1,674.5 473.5,673.0 481.0,675.0 488.5,677.5 496.0,680.4 503.5,681.9 511.0,681.4 518.5,679.7 532.2,679.2 539.7,675.2 545.9,676.2 553.4,677.2 560.9,680.4 568.4,679.0 574.6,680.0 582.1,681.2 589.6,679.2 597.0,678.5 607.0,680.7 619.5,683.2 629.5,683.2 639.5,685.4 648.2,688.7 654.4,689.9 661.9,690.9 669.4,689.2 676.4,687.7 683.1,682.4 690.6,683.4 698.1,685.4 705.6,689.2 719.3,690.9 726.8,692.9 733.8,688.2 740.0,688.9 750.0,689.9 756.2,691.2 763.0,694.2 769.9,693.7 777.4,695.4 784.9,695.4 792.4,698.4 805.4,702.4 813.6,701.2 827.3,702.4 834.8,705.6 842.8,706.4 849.8,700.9 856.0,699.4 863.5,698.9 871.0,701.7 878.5,700.7 886.0,702.2 892.7,700.7 899.7,703.7 907.7,706.9 914.7,704.9 922.1,701.4 929.6,698.7 937.1,696.9 944.6,698.9 952.1,701.9 957.6,704.4 965.8,703.4 972.8,706.6 979.5,705.4 987.0,705.6 994.5,702.9 1002.0,701.2 1008.2,702.2 1023.2,702.4 1030.7,692.4 1037.4,693.2 1044.9,689.4 1059.4,689.9 1066.8,691.2 1074.3,693.2 1080.6,691.4 1089.3,692.4 1096.8,693.2 1106.8,692.7 1110.0,693.2 1116.2,694.4 1125.0,692.9 1132.5,688.4 1139.4,686.7 1146.9,686.4 1153.9,683.4 1161.1,686.2 1167.9,686.7 1175.4,688.4 1182.9,688.9 1189.8,692.4 1197.3,694.2 1204.3,694.4 1211.0,692.2 1218.5,691.7 1226.0,692.2 1233.5,693.2 1239.7,695.4 1247.2,693.2 1254.7,693.2 1262.2,694.4 1269.7,696.2 1277.2,697.9 1284.7,697.4 1290.9,696.9 1298.4,697.4 1305.9,696.2 1312.8,694.4 1319.6,696.4 1326.6,696.9 1334.1,691.4 1342.0,693.9 1349.0,697.4 1356.5,690.9 1364.0,691.7 1370.7,692.4 1378.2,695.2 1385.0,697.4" fill="none" stroke="#c62828" stroke-width="1.2" stroke-linejoin="round" stroke-linecap="round" />
<polyline points="3.3,763.4 11.3,756.2 18.3,761.6 25.3,769.9 32.3,782.9 40.3,766.6 47.3,743.7 54.3,771.6 61.3,799.1 69.3,793.3 76.3,777.1 83.3,772.4 90.3,763.4 98.3,753.2 105.3,754.2 112.3,774.9 119.3,784.8 126.3,774.9 134.3,765.4 141.3,766.1 148.3,772.9 155.3,776.1 163.3,771.1 170.3,759.9 177.3,765.9 184.3,775.9 192.3,762.9 199.3,750.4 206.3,760.9 213.3,747.2 220.3,725.0 228.3,715.5 235.3,720.0 242.3,736.7 249.3,745.4 257.3,753.4 264.3,762.1 271.3,758.4 278.3,737.4 286.3,730.5 293.3,739.4 300.3,739.7 307.3,733.7 315.3,733.0 322.3,738.4 329.3,738.4 336.3,736.7 343.3,734.9 351.3,730.5 358.3,734.2 365.3,740.4 372.3,736.2 380.3,740.4 387.3,750.9 394.3,753.7 401.3,750.9 409.3,751.7 416.3,758.1 423.3,758.9 430.3,741.7 437.3,724.5 445.3,727.2 452.3,728.7 459.3,725.5 466.3,730.2 474.3,728.2 481.3,729.2 488.3,731.7 495.3,732.7 503.3,735.7 510.3,741.2 517.3,746.2 524.3,753.4 532.3,756.2 539.3,760.4 546.3,760.4 553.3,763.9 560.3,767.1 568.3,771.4 575.3,770.4 582.3,776.6 589.3,789.1 597.3,794.3 604.3,788.3 611.3,780.6 618.3,777.9 626.3,776.1 633.3,773.4 640.3,771.6 647.3,769.9 654.3,767.1 662.3,765.6 669.3,768.9 676.3,773.6 683.3,775.9 691.3,787.8 698.3,782.4 705.3,777.4 712.3,781.9 720.3,775.9 727.3,770.6 734.3,784.3 741.3,780.6 749.3,768.6 756.3,763.4 763.3,758.6 770.3,753.7 777.3,752.4 785.3,747.2 792.3,746.2 799.3,751.7 806.3,751.7 814.3,765.9 821.3,767.9 828.3,760.6 835.3,761.6 843.3,771.1 850.3,745.4 857.3,722.2 864.3,716.2 871.3,730.5 879.3,734.4 886.3,734.4 893.3,745.4 900.3,755.4 908.3,757.4 915.3,767.4 922.3,757.9 929.3,748.2 937.3,767.1 944.3,767.1 951.3,764.4 958.3,769.1 966.3,774.1 973.3,772.6 980.3,777.4 987.3,776.1 994.3,761.6 1002.3,748.2 1009.3,751.2 1016.3,743.4 1023.3,731.5 1031.3,759.9 1038.3,766.9 1045.3,782.9 1052.3,790.8 1060.3,799.3 1067.3,788.6 1074.3,782.9 1081.3,785.1 1088.3,774.9 1096.3,766.6 1103.3,759.1 1110.3,755.4 1117.3,750.4 1125.3,746.7 1132.3,758.4 1139.3,757.2 1146.3,745.4 1154.3,734.2 1161.3,732.0 1168.3,734.2 1175.3,742.2 1183.3,739.2 1190.3,740.4 1197.3,742.2 1204.3,742.9 1211.3,733.7 1219.3,733.4 1226.3,734.9 1233.3,737.2 1240.3,741.7 1248.3,747.9 1255.3,753.7 1262.3,755.2 1269.3,747.9 1277.3,745.4 1284.3,757.2 1291.3,761.6 1298.3,751.7 1305.3,742.2 1313.3,747.9 1320.3,755.4 1327.3,749.9 1334.3,775.4 1342.3,782.9 1349.3,780.4 1356.3,752.4 1363.3,755.9 1371.3,771.6 1378.3,776.1 1385.3,767.9" fill="none" stroke="#3470ff" stroke-width="1.2" stroke-linejoin="round" stroke-linecap="round" />
<rect x="1461" y="4" width="1" height="829" fill="#484848" shape-rendering="crispEdges"/>
<rect x="2" y="805" width="1519" height="1" fill="#484848" shape-rendering="crispEdges"/>
<text x="1469" y="63.3" font-family="Liberation Sans, sans-serif" font-size="12" fill="#555861" textLength="42" lengthAdjust="spacingAndGlyphs">0.68500</text>
<text x="1469" y="113.0" font-family="Liberation Sans, sans-serif" font-size="12" fill="#555861" textLength="42" lengthAdjust="spacingAndGlyphs">0.68000</text>
<text x="1469" y="162.6" font-family="Liberation Sans, sans-serif" font-size="12" fill="#555861" textLength="42" lengthAdjust="spacingAndGlyphs">0.67500</text>
<text x="1469" y="212.2" font-family="Liberation Sans, sans-serif" font-size="12" fill="#555861" textLength="42" lengthAdjust="spacingAndGlyphs">0.67000</text>
<text x="1469" y="261.8" font-family="Liberation Sans, sans-serif" font-size="12" fill="#555861" textLength="42" lengthAdjust="spacingAndGlyphs">0.66500</text>
<text x="1469" y="311.5" font-family="Liberation Sans, sans-serif" font-size="12" fill="#555861" textLength="42" lengthAdjust="spacingAndGlyphs">0.66000</text>
<text x="1469" y="361.1" font-family="Liberation Sans, sans-serif" font-size="12" fill="#555861" textLength="42" lengthAdjust="spacingAndGlyphs">0.65500</text>
<text x="1469" y="410.7" font-family="Liberation Sans, sans-serif" font-size="12" fill="#555861" textLength="42" lengthAdjust="spacingAndGlyphs">0.65000</text>
<text x="1469" y="460.4" font-family="Liberation Sans, sans-serif" font-size="12" fill="#555861" textLength="42" lengthAdjust="spacingAndGlyphs">0.64500</text>
<text x="1469" y="510.0" font-family="Liberation Sans, sans-serif" font-size="12" fill="#555861" textLength="42" lengthAdjust="spacingAndGlyphs">0.64000</text>
<text x="1469" y="559.6" font-family="Liberation Sans, sans-serif" font-size="12" fill="#555861" textLength="42" lengthAdjust="spacingAndGlyphs">0.63500</text>
<text x="1469" y="609.3" font-family="Liberation Sans, sans-serif" font-size="12" fill="#555861" textLength="42" lengthAdjust="spacingAndGlyphs">0.63000</text>
<text x="1469" y="658.9" font-family="Liberation Sans, sans-serif" font-size="12" fill="#555861" textLength="42" lengthAdjust="spacingAndGlyphs">0.62500</text>
<text x="1469" y="690.6" font-family="Liberation Sans, sans-serif" font-size="12" fill="#555861" textLength="42" lengthAdjust="spacingAndGlyphs">0.00600</text>
<text x="1469" y="726.8" font-family="Liberation Sans, sans-serif" font-size="12" fill="#555861" textLength="36" lengthAdjust="spacingAndGlyphs">200.00</text>
<text x="1469" y="762.8" font-family="Liberation Sans, sans-serif" font-size="12" fill="#555861" textLength="23" lengthAdjust="spacingAndGlyphs">0.00</text>
<text x="1466" y="798.8" font-family="Liberation Sans, sans-serif" font-size="12" fill="#555861" textLength="41" lengthAdjust="spacingAndGlyphs">−200.00</text>
<path d="M1461,37 H1515 a2,2 0 0 1 2,2 V43 a2,2 0 0 1 -2,2 H1461 Z" fill="#000"/>
<text x="1469" y="41" font-family="Liberation Sans, sans-serif" font-size="12.3" font-weight="bold" fill="#fff" textLength="42" lengthAdjust="spacingAndGlyphs">0.68724</text>
<path d="M1461,453 H1515 a2,2 0 0 1 2,2 V468 a2,2 0 0 1 -2,2 H1461 Z" fill="#000"/>
<text x="1469" y="466" font-family="Liberation Sans, sans-serif" font-size="12.3" font-weight="bold" fill="#fff" textLength="42" lengthAdjust="spacingAndGlyphs">0.64440</text>
<path d="M1461,609 H1515 a2,2 0 0 1 2,2 V624 a2,2 0 0 1 -2,2 H1461 Z" fill="#000"/>
<text x="1469" y="622" font-family="Liberation Sans, sans-serif" font-size="12.3" font-weight="bold" fill="#fff" textLength="42" lengthAdjust="spacingAndGlyphs">0.62871</text>
<path d="M1461,626 H1515 a2,2 0 0 1 2,2 V641 a2,2 0 0 1 -2,2 H1461 Z" fill="#000"/>
<text x="1469" y="639" font-family="Liberation Sans, sans-serif" font-size="12.3" font-weight="bold" fill="#fff" textLength="42" lengthAdjust="spacingAndGlyphs">0.62700</text>
<rect x="1462" y="4" width="58" height="33.8" fill="#fff"/>
<rect x="1465.5" y="8.5" width="51" height="25" rx="4" fill="#fff" stroke="#e0e3eb"/>
<text x="1470" y="25.3" font-family="Liberation Sans, sans-serif" font-size="12" fill="#131722" textLength="21" lengthAdjust="spacingAndGlyphs">USD</text>
<path d="M1506.6,19.6 l2.8,2.8 l2.8,-2.8" fill="none" stroke="#131722" stroke-width="1.3"/>
<text x="54.5" y="823" font-family="Liberation Sans, sans-serif" font-size="12" text-anchor="middle" fill="#3c3f47">Oct</text>
<text x="213.5" y="823" font-family="Liberation Sans, sans-serif" font-size="12" text-anchor="middle" fill="#3c3f47">Nov</text>
<text x="372.6" y="823" font-family="Liberation Sans, sans-serif" font-size="12" text-anchor="middle" fill="#3c3f47">Dec</text>
<text x="517" y="823" font-family="Liberation Sans, sans-serif" font-size="12" text-anchor="middle" fill="#3c3f47" font-weight="bold">2024</text>
<text x="676" y="823" font-family="Liberation Sans, sans-serif" font-size="12" text-anchor="middle" fill="#3c3f47">Feb</text>
<text x="828" y="823" font-family="Liberation Sans, sans-serif" font-size="12" text-anchor="middle" fill="#3c3f47">Mar</text>
<text x="980" y="823" font-family="Liberation Sans, sans-serif" font-size="12" text-anchor="middle" fill="#3c3f47">Apr</text>
<text x="1139.5" y="823" font-family="Liberation Sans, sans-serif" font-size="12" text-anchor="middle" fill="#3c3f47">May</text>
<text x="1305" y="823" font-family="Liberation Sans, sans-serif" font-size="12" text-anchor="middle" fill="#3c3f47">Jun</text>
<text x="1450" y="823" font-family="Liberation Sans, sans-serif" font-size="12" text-anchor="middle" fill="#3c3f47">Jul</text>
<g transform="translate(1491.4,819.5)" fill="none" stroke="#131722" stroke-width="1.2"><path d="M-7.2,0 L-3.6,-6.3 H3.6 L7.2,0 L3.6,6.3 H-3.6 Z"/><circle r="2.1"/></g>
<rect x="8" y="9" width="782" height="24" fill="#fff" fill-opacity="0.55"/>
<rect x="8" y="33" width="158" height="29" fill="#fff" fill-opacity="0.55"/>
<rect x="8" y="63.6" width="560" height="24.4" fill="#fff" fill-opacity="0.62"/>
<g>
<clipPath id="usc"><circle cx="23.1" cy="16.7" r="5.9"/></clipPath>
<clipPath id="auc"><circle cx="16.9" cy="22.9" r="6.05"/></clipPath>
<g clip-path="url(#usc)">
<rect x="16" y="10" width="14" height="14" fill="#fff"/>
<rect x="16" y="10.6" width="14" height="3.2" fill="#f44336"/>
<rect x="16" y="15.9" width="14" height="2.2" fill="#f44336"/>
<rect x="16" y="20.1" width="14" height="2.6" fill="#f44336"/>
<rect x="16" y="10" width="8" height="7.9" fill="#1e88e5"/>
<g fill="#dbeafb"><circle cx="20.7" cy="12.6" r="0.45"/><circle cx="22.5" cy="12.6" r="0.45"/><circle cx="20.7" cy="14.5" r="0.45"/><circle cx="22.5" cy="14.5" r="0.45"/><circle cx="18.9" cy="14.5" r="0.45"/></g>
</g>
<circle cx="16.9" cy="22.9" r="7" fill="#fff"/>
<circle cx="16.9" cy="22.9" r="6.05" fill="#0d47a1"/>
<g clip-path="url(#auc)">
<rect x="10.5" y="16.5" width="6.4" height="6.3" fill="#f3f6fb"/>
<path d="M10.5,16.5 L16.9,22.8 M16.9,16.5 L10.5,22.8" stroke="#f44336" stroke-width="0.7"/>
<rect x="10.5" y="19.1" width="6.4" height="1.1" fill="#f44336"/>
<rect x="13.2" y="16.5" width="1.1" height="6.3" fill="#f44336"/>
<rect x="11.6" y="17.3" width="5.3" height="1.2" fill="#f44336"/>
<rect x="11.4" y="18.6" width="1.3" height="4.2" fill="#f44336"/>
</g>
<g fill="#fff"><circle cx="14.4" cy="25.6" r="0.95"/><circle cx="19.4" cy="20.4" r="0.5"/><circle cx="18.4" cy="22.4" r="0.5"/><circle cx="19.4" cy="26.1" r="0.5"/><circle cx="20.8" cy="21.9" r="0.35"/></g>
</g>
<text x="33.3" y="25.8" font-family="Liberation Sans, sans-serif" font-size="15.2" fill="#4d4d4d" textLength="70.9" lengthAdjust="spacingAndGlyphs">Australian</text>
<text x="110.8" y="25.8" font-family="Liberation Sans, sans-serif" font-size="15.2" fill="#4d4d4d" textLength="39.4" lengthAdjust="spacingAndGlyphs">Dollar</text>
<text x="170.9" y="25.8" font-family="Liberation Sans, sans-serif" font-size="15.2" fill="#4d4d4d" textLength="27.8" lengthAdjust="spacingAndGlyphs">U.S.</text>
<text x="206" y="25.8" font-family="Liberation Sans, sans-serif" font-size="15.2" fill="#4d4d4d" textLength="39" lengthAdjust="spacingAndGlyphs">Dollar</text>
<text x="259.8" y="25.8" font-family="Liberation Sans, sans-serif" font-size="15.2" fill="#4d4d4d" textLength="16.7" lengthAdjust="spacingAndGlyphs">1D</text>
<text x="290.8" y="25.8" font-family="Liberation Sans, sans-serif" font-size="15.2" fill="#4d4d4d" textLength="97" lengthAdjust="spacingAndGlyphs">PEPPERSTONE</text>
<circle cx="253.9" cy="20.7" r="1.15" fill="#4d4d4d"/><circle cx="283.9" cy="20.7" r="1.15" fill="#4d4d4d"/>
<text x="162" y="25.8" font-family="Liberation Sans, sans-serif" font-size="15.2" fill="#4d4d4d" text-anchor="middle">/</text>
<circle cx="413.2" cy="19.8" r="9" fill="#089981" fill-opacity="0.16"/><circle cx="413.2" cy="19.8" r="4.2" fill="#089981"/>
<text x="437.8" y="25.4" font-family="Liberation Sans, sans-serif" font-size="12.8" fill="#4a4a4a" textLength="9.2" lengthAdjust="spacingAndGlyphs">O</text>
<text x="448.2" y="25.4" font-family="Liberation Sans, sans-serif" font-size="12.8" fill="#1b6e55" textLength="43.8" lengthAdjust="spacingAndGlyphs">0.66031</text>
<text x="499.7" y="25.4" font-family="Liberation Sans, sans-serif" font-size="12.8" fill="#4a4a4a" textLength="8.6" lengthAdjust="spacingAndGlyphs">H</text>
<text x="509.7" y="25.4" font-family="Liberation Sans, sans-serif" font-size="12.8" fill="#1b6e55" textLength="43.8" lengthAdjust="spacingAndGlyphs">0.66326</text>
<text x="561.2" y="25.4" font-family="Liberation Sans, sans-serif" font-size="12.8" fill="#4a4a4a" textLength="6.2" lengthAdjust="spacingAndGlyphs">L</text>
<text x="568.5" y="25.4" font-family="Liberation Sans, sans-serif" font-size="12.8" fill="#1b6e55" textLength="43.8" lengthAdjust="spacingAndGlyphs">0.65971</text>
<text x="620" y="25.4" font-family="Liberation Sans, sans-serif" font-size="12.8" fill="#4a4a4a" textLength="8.4" lengthAdjust="spacingAndGlyphs">C</text>
<text x="629.7" y="25.4" font-family="Liberation Sans, sans-serif" font-size="12.8" fill="#1b6e55" textLength="43.4" lengthAdjust="spacingAndGlyphs">0.66243</text>
<text x="680.2" y="25.4" font-family="Liberation Sans, sans-serif" font-size="12.8" fill="#1b6e55" textLength="52.3" lengthAdjust="spacingAndGlyphs">+0.00119</text>
<text x="737.3" y="25.4" font-family="Liberation Sans, sans-serif" font-size="12.8" fill="#1b6e55" textLength="48.1" lengthAdjust="spacingAndGlyphs">(+0.18%)</text>
<rect x="10.5" y="36.5" width="60" height="23" rx="4" fill="#fff" stroke="#f23645"/>
<text x="18" y="52.8" font-family="Liberation Sans, sans-serif" font-size="12.2" fill="#f23645" textLength="38.6" lengthAdjust="spacingAndGlyphs">0.6624</text>
<text x="57.4" y="50.4" font-family="Liberation Sans, sans-serif" font-size="9.5" fill="#f23645" textLength="4.8" lengthAdjust="spacingAndGlyphs">3</text>
<text x="78.8" y="52.8" font-family="Liberation Sans, sans-serif" font-size="12" fill="#131722" textLength="14.6" lengthAdjust="spacingAndGlyphs">0.1</text>
<rect x="102.5" y="36.5" width="60" height="23" rx="4" fill="#fff" stroke="#2962ff"/>
<text x="110.5" y="52.8" font-family="Liberation Sans, sans-serif" font-size="12.2" fill="#2962ff" textLength="38.6" lengthAdjust="spacingAndGlyphs">0.6624</text>
<text x="149.7" y="50.4" font-family="Liberation Sans, sans-serif" font-size="9.5" fill="#2962ff" textLength="5" lengthAdjust="spacingAndGlyphs">4</text>
<text x="10.9" y="80.5" font-family="Liberation Sans, sans-serif" font-size="11.6" fill="#505050" textLength="17.1" lengthAdjust="spacingAndGlyphs">MA</text>
<text x="31.6" y="80.5" font-family="Liberation Sans, sans-serif" font-size="11.6" fill="#505050" textLength="38.8" lengthAdjust="spacingAndGlyphs">Ribbon</text>
<text x="75" y="80.5" font-family="Liberation Sans, sans-serif" font-size="11.6" fill="#505050" textLength="23" lengthAdjust="spacingAndGlyphs">SMA</text>
<text x="101.5" y="80.5" font-family="Liberation Sans, sans-serif" font-size="11.6" fill="#505050" textLength="28.6" lengthAdjust="spacingAndGlyphs">close</text>
<text x="134.7" y="80.5" font-family="Liberation Sans, sans-serif" font-size="11.6" fill="#505050" textLength="12.5" lengthAdjust="spacingAndGlyphs">20</text>
<text x="152.4" y="80.5" font-family="Liberation Sans, sans-serif" font-size="11.6" fill="#505050" textLength="23" lengthAdjust="spacingAndGlyphs">SMA</text>
<text x="179.4" y="80.5" font-family="Liberation Sans, sans-serif" font-size="11.6" fill="#505050" textLength="28.8" lengthAdjust="spacingAndGlyphs">close</text>
<text x="212.9" y="80.5" font-family="Liberation Sans, sans-serif" font-size="11.6" fill="#505050" textLength="12.7" lengthAdjust="spacingAndGlyphs">50</text>
<text x="230.2" y="80.5" font-family="Liberation Sans, sans-serif" font-size="11.6" fill="#505050" textLength="23" lengthAdjust="spacingAndGlyphs">SMA</text>
<text x="256.7" y="80.5" font-family="Liberation Sans, sans-serif" font-size="11.6" fill="#505050" textLength="28.4" lengthAdjust="spacingAndGlyphs">close</text>
<text x="290.6" y="80.5" font-family="Liberation Sans, sans-serif" font-size="11.6" fill="#505050" textLength="18.4" lengthAdjust="spacingAndGlyphs">100</text>
<text x="314.2" y="80.5" font-family="Liberation Sans, sans-serif" font-size="11.6" fill="#505050" textLength="23" lengthAdjust="spacingAndGlyphs">SMA</text>
<text x="340.8" y="80.5" font-family="Liberation Sans, sans-serif" font-size="11.6" fill="#505050" textLength="28.6" lengthAdjust="spacingAndGlyphs">close</text>
<text x="374" y="80.5" font-family="Liberation Sans, sans-serif" font-size="11.6" fill="#505050" textLength="20.1" lengthAdjust="spacingAndGlyphs">200</text>
<text x="402.5" y="80.6" font-family="Liberation Sans, sans-serif" font-size="12" fill="#f23645" textLength="44.4" lengthAdjust="spacingAndGlyphs">0.66326</text>
<text x="454.3" y="80.6" font-family="Liberation Sans, sans-serif" font-size="12" fill="#2962ff" textLength="44.3" lengthAdjust="spacingAndGlyphs">0.65832</text>
<g stroke="#33363f" stroke-width="1" fill="none"><ellipse cx="510.4" cy="76.6" rx="2.9" ry="3.9"/><path d="M507.4,81.4 L513.4,71.8"/></g>
<text x="520.3" y="80.6" font-family="Liberation Sans, sans-serif" font-size="12" fill="#131722" textLength="44.3" lengthAdjust="spacingAndGlyphs">0.65442</text>
<rect x="11.5" y="90.5" width="28" height="20" rx="3" fill="#fff" stroke="#dcdfe8"/>
<path d="M21.2,102.8 l4.3,-4 l4.3,4" fill="none" stroke="#131722" stroke-width="1.5"/>
<rect x="8" y="676" width="128" height="19" fill="#fff" fill-opacity="0.6"/>
<rect x="8" y="718" width="156" height="19" fill="#fff" fill-opacity="0.6"/>
<text x="11.5" y="690" font-family="Liberation Sans, sans-serif" font-size="12" fill="#4a4a4a" textLength="66.5" lengthAdjust="spacingAndGlyphs">ATR 14 RMA</text>
<text x="87" y="690" font-family="Liberation Sans, sans-serif" font-size="12" fill="#c62828" textLength="45" lengthAdjust="spacingAndGlyphs">0.00530</text>
<text x="11.5" y="732" font-family="Liberation Sans, sans-serif" font-size="12" fill="#4a4a4a" textLength="100.5" lengthAdjust="spacingAndGlyphs">CCI 20 hlc3 SMA 5</text>
<text x="122" y="732" font-family="Liberation Sans, sans-serif" font-size="12" fill="#2962ff" textLength="36.5" lengthAdjust="spacingAndGlyphs">−54.31</text>
<rect x="12" y="774" width="34" height="19" fill="#fff"/>
<g fill="#131722"><path d="M14,776 h12.5 v15 h-6.4 v-8.6 h-6.1 z"/><circle cx="31" cy="779.3" r="3.2"/><path d="M37.4,776 h6.6 l-6.4,15 h-6.8 z"/></g>
<defs>
<filter id="ws" x="-10%" y="-20%" width="130%" height="150%"><feDropShadow dx="1.5" dy="1.8" stdDeviation="0.9" flood-color="#000" flood-opacity="0.55"/></filter>
<filter id="bs" x="-10%" y="-20%" width="130%" height="150%"><feDropShadow dx="1" dy="1" stdDeviation="0.4" flood-color="#7f9fd6" flood-opacity="0.95"/></filter>
</defs>
<g opacity="0.86" filter="url(#ws)" fill="none" stroke="#fff" stroke-linejoin="miter" stroke-linecap="butt">
<g transform="translate(1281,741) translate(0,56) skewX(-14) translate(0,-56) scale(0.58,0.56)" stroke-width="14.5">
<path d="M10,6 L26,20"/>
<path d="M3,34 L19,47"/>
<path d="M3,96 L24,60"/>
<path d="M52,0 L36,27"/>
<path d="M42,15 H100"/>
<path d="M45,35 H93 L90,96 H38 Z"/>
<path d="M30,65 H102"/>
<path d="M64,42 L68,56"/>
<path d="M62,72 L66,86"/>
</g>
<g transform="translate(1342,741) translate(0,56) skewX(-14) translate(0,-56) scale(0.58,0.56)" stroke-width="14.5">
<path d="M18,12 H76 L71,44"/>
<path d="M35,12 L29,46 H92 L85,90 Q84,97 72,96 L54,95"/>
<path d="M6,72 H76"/>
</g>
<g transform="translate(1400,741) translate(0,56) skewX(-14) translate(0,-56) scale(0.6,0.56)" stroke-width="14.5">
<path d="M9,9 H41 V64 H9 Z"/>
<path d="M25,22 V52 L5,96"/>
<path d="M30,72 L44,94"/>
<path d="M48,28 H102"/>
<path d="M82,2 V88 Q82,97 70,96 L60,95"/>
<path d="M80,34 L48,76"/>
</g>
<g transform="translate(1460,741) translate(0,56) skewX(-14) translate(0,-56) scale(0.62,0.56)" stroke-width="14.5">
<path d="M30,2 L8,33 H30 L5,64 H37"/>
<path d="M3,97 L39,84"/>
<path d="M46,10 H94 L52,48"/>
<path d="M66,28 L100,48"/>
<path d="M52,60 H96"/>
<path d="M74,60 V80"/>
<path d="M44,82 H102"/>
</g>
</g>
<g opacity="0.84" filter="url(#bs)" fill="#86c3fb" stroke="#86c3fb" stroke-width="0.9">
<text x="1289" y="828.8" font-family="Liberation Sans, sans-serif" font-weight="bold" font-style="italic" font-size="29.5" textLength="17" lengthAdjust="spacingAndGlyphs">z</text>
<text x="1316.5" y="828.8" font-family="Liberation Sans, sans-serif" font-weight="bold" font-style="italic" font-size="29.5" textLength="16.5" lengthAdjust="spacingAndGlyphs">z</text>
<text x="1344" y="828.8" font-family="Liberation Sans, sans-serif" font-weight="bold" font-style="italic" font-size="29.5" textLength="13.5" lengthAdjust="spacingAndGlyphs">r</text>
<text x="1368" y="828.8" font-family="Liberation Sans, sans-serif" font-weight="bold" font-style="italic" font-size="29.5" textLength="12.5" lengthAdjust="spacingAndGlyphs">t</text>
<text x="1388.8" y="828.8" font-family="Liberation Sans, sans-serif" font-weight="bold" font-style="italic" font-size="29.5" textLength="17.5" lengthAdjust="spacingAndGlyphs">0</text>
<text x="1421" y="828.8" font-family="Liberation Sans, sans-serif" font-weight="bold" font-style="italic" font-size="29.5" textLength="13.5" lengthAdjust="spacingAndGlyphs">1</text>
<text x="1447.5" y="828.8" font-family="Liberation Sans, sans-serif" font-weight="bold" font-style="italic" font-size="29.5" textLength="7" lengthAdjust="spacingAndGlyphs">.</text>
<text x="1466" y="828.8" font-family="Liberation Sans, sans-serif" font-weight="bold" font-style="italic" font-size="29.5" textLength="15.5" lengthAdjust="spacingAndGlyphs">c</text>
<text x="1492.6" y="828.8" font-family="Liberation Sans, sans-serif" font-weight="bold" font-style="italic" font-size="29.5" textLength="18.5" lengthAdjust="spacingAndGlyphs">n</text>
</g>
</svg>
</body></html>
